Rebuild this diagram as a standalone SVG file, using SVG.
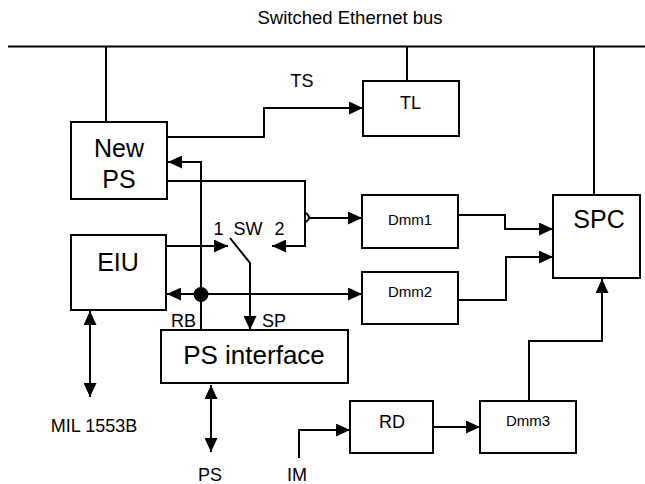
<svg xmlns="http://www.w3.org/2000/svg" width="645" height="484" viewBox="0 0 645 484">
<style>
.box{fill:#fff;stroke:#000;stroke-width:2}
.ln{fill:none;stroke:#000;stroke-width:2}
text{font-family:"Liberation Sans",Arial,sans-serif;fill:#000;text-anchor:middle}
.lg{font-size:25px}
.xl{font-size:26px}
.md{font-size:18px}
.sm{font-size:15px}
</style>
<defs>
<marker id="ah" markerUnits="userSpaceOnUse" markerWidth="14" markerHeight="13" refX="14" refY="6.5" orient="auto-start-reverse" viewBox="0 0 14 13">
<path d="M0,0 L14,6.5 L0,13 z" fill="#000"/>
</marker>
</defs>
<rect width="645" height="484" fill="#fff"/>
<text class="md" x="350" y="24" style="font-size:18.5px">Switched Ethernet bus</text>
<g id="connectors">
<path class="ln" d="M8,46.5 H645"/>
<path class="ln" d="M106,46 V122"/>
<path class="ln" d="M407,46 V81"/>
<path class="ln" d="M594,46 V195"/>
<path class="ln" d="M167,137 H264 V108 H363" marker-end="url(#ah)"/>
<path class="ln" d="M201,330 V162 H168" marker-end="url(#ah)"/>
<path class="ln" d="M167,181 H305 V246 H272" marker-end="url(#ah)"/>
<path class="ln" d="M306,213 Q312,217.5 306,222"/>
<path class="ln" d="M309,218 H362" marker-end="url(#ah)"/>
<path class="ln" d="M166,246 H228" marker-end="url(#ah)"/>
<path class="ln" d="M230,238 L250,263 V330" marker-end="url(#ah)"/>
<path class="ln" d="M167,294 H362" marker-start="url(#ah)" marker-end="url(#ah)"/>
<circle cx="201" cy="294.5" r="7.5" fill="#000"/>
<path class="ln" d="M458,215 H505 V229 H553" marker-end="url(#ah)"/>
<path class="ln" d="M458,300 H506 V257 H553" marker-end="url(#ah)"/>
<path class="ln" d="M90,311 V397" marker-start="url(#ah)" marker-end="url(#ah)"/>
<path class="ln" d="M211,385 V452" marker-start="url(#ah)" marker-end="url(#ah)"/>
<path class="ln" d="M299,458 V430 H350" marker-end="url(#ah)"/>
<path class="ln" d="M433,427 H480" marker-end="url(#ah)"/>
<path class="ln" d="M529,401 V341 H602 V279" marker-end="url(#ah)"/>
<text class="md" x="302" y="87">TS</text>
<text class="md" x="218.5" y="235">1</text>
<text class="md" x="248" y="235">SW</text>
<text class="md" x="279.5" y="235">2</text>
<text class="md" x="183.5" y="327">RB</text>
<text class="md" x="274" y="327">SP</text>
<text class="md" x="94" y="432">MIL 1553B</text>
<text class="md" x="210" y="481">PS</text>
<text class="md" x="297" y="481">IM</text>
</g>
<g id="newps"><rect class="box" x="71" y="122" width="96" height="77"/><text class="lg" x="119" y="157">New</text><text class="lg" x="119" y="188">PS</text></g>
<g id="tl"><rect class="box" x="363" y="81" width="96" height="55"/><text class="md" x="410.5" y="109">TL</text></g>
<g id="eiu"><rect class="box" x="71" y="235" width="95" height="75"/><text class="lg" x="118" y="271">EIU</text></g>
<g id="dmm1"><rect class="box" x="362" y="195" width="96" height="53"/><text class="sm" x="410" y="225">Dmm1</text></g>
<g id="dmm2"><rect class="box" x="362" y="272" width="96" height="52"/><text class="sm" x="410" y="297">Dmm2</text></g>
<g id="spc"><rect class="box" x="553" y="195" width="87" height="83"/><text class="lg" x="599" y="228">SPC</text></g>
<g id="psinterface"><rect class="box" x="161" y="330" width="187" height="53"/><text class="xl" x="254" y="364">PS interface</text></g>
<g id="rd"><rect class="box" x="350" y="401" width="83" height="52"/><text class="md" x="392" y="428">RD</text></g>
<g id="dmm3"><rect class="box" x="480" y="401" width="96" height="52"/><text class="sm" x="528" y="426">Dmm3</text></g>
</svg>
